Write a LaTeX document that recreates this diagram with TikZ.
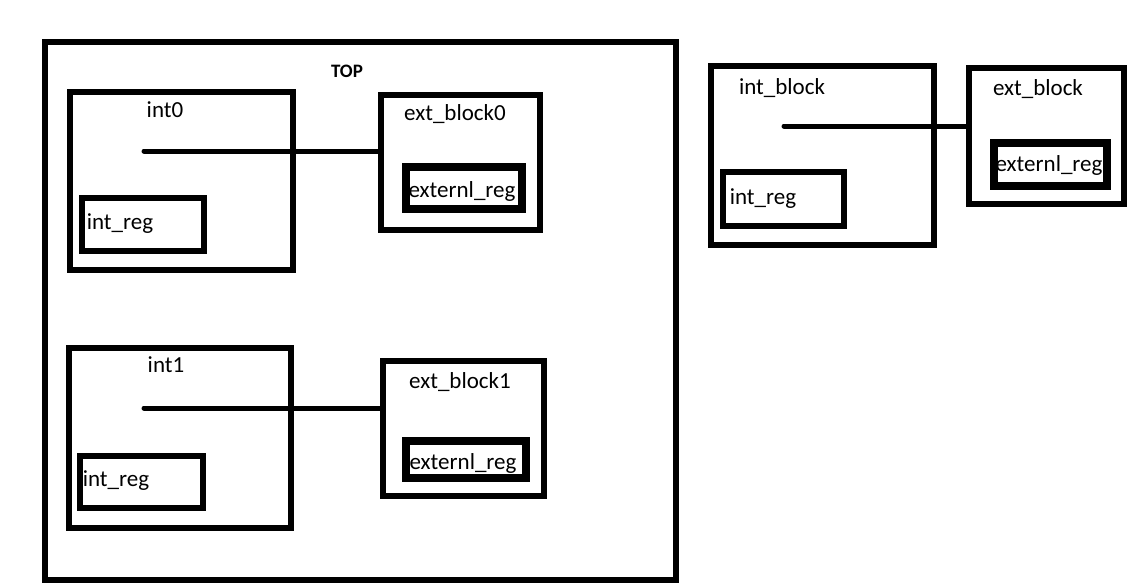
\documentclass[tikz,border=0pt]{standalone}
\usepackage{fontspec}
\setmainfont{Carlito}
\usetikzlibrary{positioning}

\begin{document}
\begin{tikzpicture}[x=1pt, y=-1pt,
        box/.style={draw, rectangle, line width=6pt, inner sep=0pt},
        regbox/.style={box, line width=8pt},
        wire/.style={line width=5pt, line cap=round},
        txt/.style={anchor=base, inner sep=0pt, font=\fontsize{23}{27}\selectfont}]
        \useasboundingbox (0, 0) rectangle (1127, 584);

        % Top box
        \node[box, minimum width=631pt, minimum height=538pt] (top) at (360.5, 311) {};
        \node[txt, font=\bfseries\fontsize{19}{22}\selectfont] (toplbl) at (347, 77) {TOP};

        % First pair
        \node[box, minimum width=223pt, minimum height=178pt] (int0) at (181.5, 181) {};
        \node[txt] (int0lbl) at (165, 117) {int0};
        \node[box, minimum width=122pt, minimum height=53pt] (ireg0) at (143, 224.5) {};
        \node[txt] (ireg0lbl) at (120, 229) {int\_reg};
        \node[box, minimum width=159pt, minimum height=135pt] (ext0) at (460.5, 162.5) {};
        \node[txt] (ext0lbl) at (455, 120) {ext\_block0};
        \node[regbox, minimum width=116pt, minimum height=42pt] (ereg0) at (464, 188) {};
        \node[txt] (ereg0lbl) at (462, 197) {externl\_reg};
        \coordinate (dot0) at (144, 151);
        \draw[wire] (dot0) -- (dot0 -| ext0.west);

        % Second pair
        \node[box, minimum width=222pt, minimum height=180pt] (int1) at (180, 438) {};
        \node[txt] (int1lbl) at (166, 372) {int1};
        \node[box, minimum width=123pt, minimum height=52pt] (ireg1) at (141.5, 482) {};
        \node[txt] (ireg1lbl) at (116, 486) {int\_reg};
        \node[box, minimum width=161pt, minimum height=135pt] (ext1) at (463.5, 428.5) {};
        \node[txt] (ext1lbl) at (460, 388) {ext\_block1};
        \node[regbox, minimum width=120pt, minimum height=37pt] (ereg1) at (466, 459.5) {};
        \node[txt] (ereg1lbl) at (463, 469) {externl\_reg};
        \coordinate (dot1) at (144, 408);
        \draw[wire] (dot1) -- (dot1 -| ext1.west);

        % Right pair
        \node[box, minimum width=223pt, minimum height=179pt] (intb) at (822.5, 155.5) {};
        \node[txt] (intblbl) at (782, 94) {int\_block};
        \node[box, minimum width=121pt, minimum height=54pt] (iregb) at (783.5, 199) {};
        \node[txt] (iregblbl) at (763, 204) {int\_reg};
        \node[box, minimum width=155pt, minimum height=136pt] (extb) at (1046.5, 136) {};
        \node[txt] (extblbl) at (1038, 95) {ext\_block};
        \node[regbox, minimum width=113pt, minimum height=43pt] (eregb) at (1050.5, 164.5) {};
        \node[txt] (eregblbl) at (1049, 171) {externl\_reg};
        \coordinate (dotb) at (784, 126);
        \draw[wire] (dotb) -- (dotb -| extb.west);

    \end{tikzpicture}
\end{document}
